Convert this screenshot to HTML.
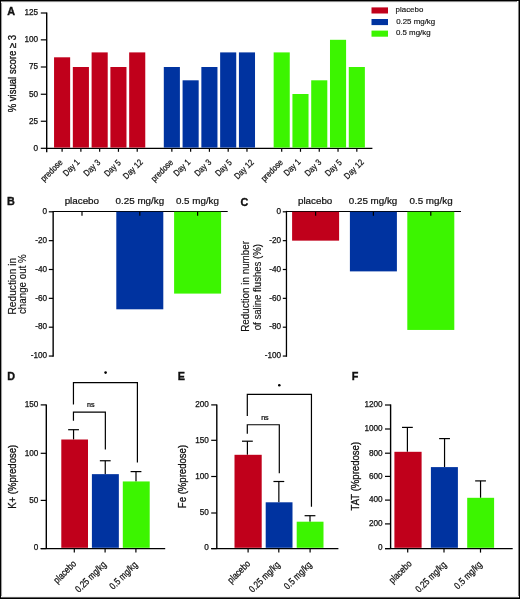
<!DOCTYPE html>
<html><head><meta charset="utf-8"><style>
html,body{margin:0;padding:0;background:#fff;}
#fig{position:relative;width:520px;height:599px;overflow:hidden;background:#fff;}
#fig svg{position:absolute;left:0;top:0;will-change:transform;}
text{font-family:"Liberation Sans",sans-serif;fill:#111;stroke:#111;}
</style></head><body>
<div id="fig">
<svg width="520" height="599" viewBox="0 0 520 599">
<rect x="0" y="0" width="520" height="599" fill="#fff"/>
<text transform="translate(11.12,11.20)" x="0" y="3.89" font-size="10.8" text-anchor="middle" font-weight="bold" stroke-width="0.35">A</text>
<line x1="46.70" y1="12.40" x2="46.70" y2="152.30" stroke="#000" stroke-width="1.4"/>
<line x1="40.80" y1="148.30" x2="46.70" y2="148.30" stroke="#000" stroke-width="1.2"/>
<text x="38.05" y="150.64" font-size="8.2" text-anchor="end" stroke-width="0.25">0</text>
<line x1="40.80" y1="121.25" x2="46.70" y2="121.25" stroke="#000" stroke-width="1.2"/>
<text x="38.05" y="123.59" font-size="8.2" text-anchor="end" stroke-width="0.25">25</text>
<line x1="40.80" y1="94.25" x2="46.70" y2="94.25" stroke="#000" stroke-width="1.2"/>
<text x="38.05" y="96.59" font-size="8.2" text-anchor="end" stroke-width="0.25">50</text>
<line x1="40.80" y1="67.00" x2="46.70" y2="67.00" stroke="#000" stroke-width="1.2"/>
<text x="38.05" y="69.34" font-size="8.2" text-anchor="end" stroke-width="0.25">75</text>
<line x1="40.80" y1="39.85" x2="46.70" y2="39.85" stroke="#000" stroke-width="1.2"/>
<text x="38.05" y="42.19" font-size="8.2" text-anchor="end" stroke-width="0.25">100</text>
<line x1="40.80" y1="13.00" x2="46.70" y2="13.00" stroke="#000" stroke-width="1.2"/>
<text x="38.05" y="15.34" font-size="8.2" text-anchor="end" stroke-width="0.25">125</text>
<line x1="46.10" y1="148.40" x2="372.40" y2="148.40" stroke="#000" stroke-width="1.2"/>
<text transform="translate(11.83,73.62) rotate(-90) scale(0.92,1)" x="0" y="3.74" font-size="10.4" text-anchor="middle" font-weight="normal" stroke-width="0.3">% visual score ≥ 3</text>
<rect x="54.05" y="57.30" width="16.10" height="90.30" fill="#c0001b"/>
<rect x="72.83" y="67.00" width="16.10" height="80.60" fill="#c0001b"/>
<rect x="91.61" y="52.40" width="16.10" height="95.20" fill="#c0001b"/>
<rect x="110.39" y="67.00" width="16.10" height="80.60" fill="#c0001b"/>
<rect x="129.17" y="52.40" width="16.10" height="95.20" fill="#c0001b"/>
<line x1="62.10" y1="148.00" x2="62.10" y2="151.80" stroke="#000" stroke-width="1.2"/>
<text transform="translate(51.39,170.33) rotate(-45) scale(0.85,1)" x="0" y="3.17" font-size="8.8" text-anchor="middle" font-weight="normal" stroke-width="0.25">predose</text>
<line x1="80.88" y1="148.00" x2="80.88" y2="151.80" stroke="#000" stroke-width="1.2"/>
<text transform="translate(71.10,167.53) rotate(-45) scale(0.85,1)" x="0" y="3.17" font-size="8.8" text-anchor="middle" font-weight="normal" stroke-width="0.25">Day 1</text>
<line x1="99.66" y1="148.00" x2="99.66" y2="151.80" stroke="#000" stroke-width="1.2"/>
<text transform="translate(91.75,167.67) rotate(-45) scale(0.85,1)" x="0" y="3.17" font-size="8.8" text-anchor="middle" font-weight="normal" stroke-width="0.25">Day 3</text>
<line x1="118.44" y1="148.00" x2="118.44" y2="151.80" stroke="#000" stroke-width="1.2"/>
<text transform="translate(112.38,167.84) rotate(-45) scale(0.85,1)" x="0" y="3.17" font-size="8.8" text-anchor="middle" font-weight="normal" stroke-width="0.25">Day 5</text>
<line x1="137.22" y1="148.00" x2="137.22" y2="151.80" stroke="#000" stroke-width="1.2"/>
<text transform="translate(132.71,169.04) rotate(-45) scale(0.85,1)" x="0" y="3.17" font-size="8.8" text-anchor="middle" font-weight="normal" stroke-width="0.25">Day 12</text>
<rect x="163.80" y="67.00" width="16.10" height="80.60" fill="#0033a0"/>
<rect x="182.58" y="80.30" width="16.10" height="67.30" fill="#0033a0"/>
<rect x="201.36" y="67.00" width="16.10" height="80.60" fill="#0033a0"/>
<rect x="220.14" y="52.40" width="16.10" height="95.20" fill="#0033a0"/>
<rect x="238.92" y="52.40" width="16.10" height="95.20" fill="#0033a0"/>
<line x1="171.85" y1="148.00" x2="171.85" y2="151.80" stroke="#000" stroke-width="1.2"/>
<text transform="translate(161.90,170.34) rotate(-45) scale(0.85,1)" x="0" y="3.17" font-size="8.8" text-anchor="middle" font-weight="normal" stroke-width="0.25">predose</text>
<line x1="190.63" y1="148.00" x2="190.63" y2="151.80" stroke="#000" stroke-width="1.2"/>
<text transform="translate(181.71,167.48) rotate(-45) scale(0.85,1)" x="0" y="3.17" font-size="8.8" text-anchor="middle" font-weight="normal" stroke-width="0.25">Day 1</text>
<line x1="209.41" y1="148.00" x2="209.41" y2="151.80" stroke="#000" stroke-width="1.2"/>
<text transform="translate(202.69,167.55) rotate(-45) scale(0.85,1)" x="0" y="3.17" font-size="8.8" text-anchor="middle" font-weight="normal" stroke-width="0.25">Day 3</text>
<line x1="228.19" y1="148.00" x2="228.19" y2="151.80" stroke="#000" stroke-width="1.2"/>
<text transform="translate(223.38,167.68) rotate(-45) scale(0.85,1)" x="0" y="3.17" font-size="8.8" text-anchor="middle" font-weight="normal" stroke-width="0.25">Day 5</text>
<line x1="246.97" y1="148.00" x2="246.97" y2="151.80" stroke="#000" stroke-width="1.2"/>
<text transform="translate(243.78,169.10) rotate(-45) scale(0.85,1)" x="0" y="3.17" font-size="8.8" text-anchor="middle" font-weight="normal" stroke-width="0.25">Day 12</text>
<rect x="273.65" y="52.40" width="16.10" height="95.20" fill="#3cf500"/>
<rect x="292.43" y="94.00" width="16.10" height="53.60" fill="#3cf500"/>
<rect x="311.21" y="80.30" width="16.10" height="67.30" fill="#3cf500"/>
<rect x="329.99" y="39.80" width="16.10" height="107.80" fill="#3cf500"/>
<rect x="348.77" y="67.00" width="16.10" height="80.60" fill="#3cf500"/>
<line x1="281.70" y1="148.00" x2="281.70" y2="151.80" stroke="#000" stroke-width="1.2"/>
<text transform="translate(271.70,170.31) rotate(-45) scale(0.85,1)" x="0" y="3.17" font-size="8.8" text-anchor="middle" font-weight="normal" stroke-width="0.25">predose</text>
<line x1="300.48" y1="148.00" x2="300.48" y2="151.80" stroke="#000" stroke-width="1.2"/>
<text transform="translate(291.92,167.27) rotate(-45) scale(0.85,1)" x="0" y="3.17" font-size="8.8" text-anchor="middle" font-weight="normal" stroke-width="0.25">Day 1</text>
<line x1="319.26" y1="148.00" x2="319.26" y2="151.80" stroke="#000" stroke-width="1.2"/>
<text transform="translate(312.82,167.58) rotate(-45) scale(0.85,1)" x="0" y="3.17" font-size="8.8" text-anchor="middle" font-weight="normal" stroke-width="0.25">Day 3</text>
<line x1="338.04" y1="148.00" x2="338.04" y2="151.80" stroke="#000" stroke-width="1.2"/>
<text transform="translate(333.18,167.66) rotate(-45) scale(0.85,1)" x="0" y="3.17" font-size="8.8" text-anchor="middle" font-weight="normal" stroke-width="0.25">Day 5</text>
<line x1="356.82" y1="148.00" x2="356.82" y2="151.80" stroke="#000" stroke-width="1.2"/>
<text transform="translate(353.71,169.04) rotate(-45) scale(0.85,1)" x="0" y="3.17" font-size="8.8" text-anchor="middle" font-weight="normal" stroke-width="0.25">Day 12</text>
<rect x="371.50" y="7.40" width="16.50" height="6.10" fill="#c0001b"/>
<text transform="translate(409.45,9.59) scale(1.04,1)" x="0" y="2.74" font-size="7.6" text-anchor="middle" font-weight="normal" stroke-width="0.15">placebo</text>
<rect x="371.50" y="19.00" width="16.50" height="6.10" fill="#0033a0"/>
<text transform="translate(415.67,20.88) scale(1.04,1)" x="0" y="2.74" font-size="7.6" text-anchor="middle" font-weight="normal" stroke-width="0.15">0.25 mg/kg</text>
<rect x="371.50" y="30.60" width="16.50" height="6.10" fill="#3cf500"/>
<text transform="translate(413.25,32.24) scale(1.04,1)" x="0" y="2.74" font-size="7.6" text-anchor="middle" font-weight="normal" stroke-width="0.15">0.5 mg/kg</text>
<text transform="translate(11.00,201.16)" x="0" y="3.89" font-size="10.8" text-anchor="middle" font-weight="bold" stroke-width="0.35">B</text>
<line x1="53.15" y1="210.90" x2="53.15" y2="356.80" stroke="#000" stroke-width="1.4"/>
<line x1="48.80" y1="211.80" x2="53.15" y2="211.80" stroke="#000" stroke-width="1.2"/>
<text x="47.05" y="214.04" font-size="8.2" text-anchor="end" stroke-width="0.25">0</text>
<line x1="48.80" y1="240.65" x2="53.15" y2="240.65" stroke="#000" stroke-width="1.2"/>
<text x="47.05" y="242.89" font-size="8.2" text-anchor="end" stroke-width="0.25">-20</text>
<line x1="48.80" y1="269.50" x2="53.15" y2="269.50" stroke="#000" stroke-width="1.2"/>
<text x="47.05" y="271.74" font-size="8.2" text-anchor="end" stroke-width="0.25">-40</text>
<line x1="48.80" y1="298.35" x2="53.15" y2="298.35" stroke="#000" stroke-width="1.2"/>
<text x="47.05" y="300.59" font-size="8.2" text-anchor="end" stroke-width="0.25">-60</text>
<line x1="48.80" y1="327.20" x2="53.15" y2="327.20" stroke="#000" stroke-width="1.2"/>
<text x="47.05" y="329.44" font-size="8.2" text-anchor="end" stroke-width="0.25">-80</text>
<line x1="48.80" y1="356.05" x2="53.15" y2="356.05" stroke="#000" stroke-width="1.2"/>
<text x="47.05" y="358.29" font-size="8.2" text-anchor="end" stroke-width="0.25">-100</text>
<line x1="53.15" y1="211.50" x2="227.70" y2="211.50" stroke="#000" stroke-width="1.2"/>
<line x1="82.00" y1="211.80" x2="82.00" y2="215.80" stroke="#000" stroke-width="1.2"/>
<text transform="translate(81.82,201.24) scale(1.17,1)" x="0" y="3.02" font-size="8.4" text-anchor="middle" font-weight="normal" stroke-width="0.2">placebo</text>
<rect x="116.30" y="211.80" width="47.00" height="97.51" fill="#0033a0"/>
<line x1="139.80" y1="211.80" x2="139.80" y2="215.80" stroke="#000" stroke-width="1.2"/>
<text transform="translate(139.86,201.24) scale(1.17,1)" x="0" y="3.02" font-size="8.4" text-anchor="middle" font-weight="normal" stroke-width="0.2">0.25 mg/kg</text>
<rect x="174.10" y="211.80" width="47.00" height="81.79" fill="#3cf500"/>
<line x1="197.60" y1="211.80" x2="197.60" y2="215.80" stroke="#000" stroke-width="1.2"/>
<text transform="translate(197.42,201.24) scale(1.17,1)" x="0" y="3.02" font-size="8.4" text-anchor="middle" font-weight="normal" stroke-width="0.2">0.5 mg/kg</text>
<text transform="translate(11.95,286.25) rotate(-90)" x="0" y="3.67" font-size="10.2" text-anchor="middle" font-weight="normal" stroke-width="0.15">Reduction in</text>
<text transform="translate(22.45,284.17) rotate(-90) scale(0.96,1)" x="0" y="3.67" font-size="10.2" text-anchor="middle" font-weight="normal" stroke-width="0.15">change out %</text>
<text transform="translate(244.44,202.15)" x="0" y="3.89" font-size="10.8" text-anchor="middle" font-weight="bold" stroke-width="0.35">C</text>
<line x1="286.45" y1="210.90" x2="286.45" y2="356.80" stroke="#000" stroke-width="1.3"/>
<line x1="282.80" y1="211.80" x2="286.45" y2="211.80" stroke="#000" stroke-width="1.2"/>
<text x="281.05" y="214.04" font-size="8.2" text-anchor="end" stroke-width="0.25">0</text>
<line x1="282.80" y1="240.65" x2="286.45" y2="240.65" stroke="#000" stroke-width="1.2"/>
<text x="281.05" y="242.89" font-size="8.2" text-anchor="end" stroke-width="0.25">-20</text>
<line x1="282.80" y1="269.50" x2="286.45" y2="269.50" stroke="#000" stroke-width="1.2"/>
<text x="281.05" y="271.74" font-size="8.2" text-anchor="end" stroke-width="0.25">-40</text>
<line x1="282.80" y1="298.35" x2="286.45" y2="298.35" stroke="#000" stroke-width="1.2"/>
<text x="281.05" y="300.59" font-size="8.2" text-anchor="end" stroke-width="0.25">-60</text>
<line x1="282.80" y1="327.20" x2="286.45" y2="327.20" stroke="#000" stroke-width="1.2"/>
<text x="281.05" y="329.44" font-size="8.2" text-anchor="end" stroke-width="0.25">-80</text>
<line x1="282.80" y1="356.05" x2="286.45" y2="356.05" stroke="#000" stroke-width="1.2"/>
<text x="281.05" y="358.29" font-size="8.2" text-anchor="end" stroke-width="0.25">-100</text>
<line x1="286.45" y1="211.50" x2="461.00" y2="211.50" stroke="#000" stroke-width="1.2"/>
<rect x="292.10" y="211.80" width="47.00" height="28.85" fill="#c0001b"/>
<line x1="315.60" y1="211.80" x2="315.60" y2="215.80" stroke="#000" stroke-width="1.2"/>
<text transform="translate(315.13,201.24) scale(1.17,1)" x="0" y="3.02" font-size="8.4" text-anchor="middle" font-weight="normal" stroke-width="0.2">placebo</text>
<rect x="349.90" y="211.80" width="47.00" height="59.58" fill="#0033a0"/>
<line x1="373.40" y1="211.80" x2="373.40" y2="215.80" stroke="#000" stroke-width="1.2"/>
<text transform="translate(373.02,201.24) scale(1.17,1)" x="0" y="3.02" font-size="8.4" text-anchor="middle" font-weight="normal" stroke-width="0.2">0.25 mg/kg</text>
<rect x="407.30" y="211.80" width="47.00" height="118.14" fill="#3cf500"/>
<line x1="430.80" y1="211.80" x2="430.80" y2="215.80" stroke="#000" stroke-width="1.2"/>
<text transform="translate(431.04,201.24) scale(1.17,1)" x="0" y="3.02" font-size="8.4" text-anchor="middle" font-weight="normal" stroke-width="0.2">0.5 mg/kg</text>
<text transform="translate(245.74,286.38) rotate(-90) scale(0.965,1)" x="0" y="3.67" font-size="10.2" text-anchor="middle" font-weight="normal" stroke-width="0.15">Reduction in number</text>
<text transform="translate(257.76,287.16) rotate(-90) scale(0.94,1)" x="0" y="3.67" font-size="10.2" text-anchor="middle" font-weight="normal" stroke-width="0.15">of saline flushes (%)</text>
<text transform="translate(11.18,375.76)" x="0" y="3.89" font-size="10.8" text-anchor="middle" font-weight="bold" stroke-width="0.35">D</text>
<line x1="46.30" y1="404.40" x2="46.30" y2="548.60" stroke="#000" stroke-width="1.4"/>
<line x1="40.70" y1="548.60" x2="46.30" y2="548.60" stroke="#000" stroke-width="1.2"/>
<text x="38.35" y="550.34" font-size="8.2" text-anchor="end" stroke-width="0.25">0</text>
<line x1="40.70" y1="500.40" x2="46.30" y2="500.40" stroke="#000" stroke-width="1.2"/>
<text x="38.35" y="502.74" font-size="8.2" text-anchor="end" stroke-width="0.25">50</text>
<line x1="40.70" y1="453.30" x2="46.30" y2="453.30" stroke="#000" stroke-width="1.2"/>
<text x="38.35" y="455.64" font-size="8.2" text-anchor="end" stroke-width="0.25">100</text>
<line x1="40.70" y1="404.90" x2="46.30" y2="404.90" stroke="#000" stroke-width="1.2"/>
<text x="38.35" y="407.24" font-size="8.2" text-anchor="end" stroke-width="0.25">150</text>
<line x1="40.70" y1="548.60" x2="165.20" y2="548.60" stroke="#000" stroke-width="1.2"/>
<line x1="73.55" y1="429.70" x2="73.55" y2="439.50" stroke="#000" stroke-width="1.2"/>
<line x1="68.15" y1="429.70" x2="78.95" y2="429.70" stroke="#000" stroke-width="1.2"/>
<rect x="61.30" y="439.50" width="26.70" height="108.30" fill="#c0001b"/>
<line x1="74.30" y1="548.60" x2="74.30" y2="552.60" stroke="#000" stroke-width="1.2"/>
<text transform="translate(64.65,571.71) rotate(-45) scale(0.82,1)" x="0" y="3.49" font-size="9.7" text-anchor="middle" font-weight="normal" stroke-width="0.25">placebo</text>
<line x1="105.25" y1="460.75" x2="105.25" y2="474.15" stroke="#000" stroke-width="1.2"/>
<line x1="99.85" y1="460.75" x2="110.65" y2="460.75" stroke="#000" stroke-width="1.2"/>
<rect x="91.90" y="474.15" width="26.95" height="73.65" fill="#0033a0"/>
<line x1="105.10" y1="548.60" x2="105.10" y2="552.60" stroke="#000" stroke-width="1.2"/>
<text transform="translate(90.48,576.64) rotate(-45) scale(0.82,1)" x="0" y="3.49" font-size="9.7" text-anchor="middle" font-weight="normal" stroke-width="0.25">0.25 mg/kg</text>
<line x1="136.00" y1="471.60" x2="136.00" y2="481.45" stroke="#000" stroke-width="1.2"/>
<line x1="130.60" y1="471.60" x2="141.40" y2="471.60" stroke="#000" stroke-width="1.2"/>
<rect x="122.80" y="481.45" width="26.90" height="66.35" fill="#3cf500"/>
<line x1="135.90" y1="548.60" x2="135.90" y2="552.60" stroke="#000" stroke-width="1.2"/>
<text transform="translate(123.20,575.21) rotate(-45) scale(0.82,1)" x="0" y="3.49" font-size="9.7" text-anchor="middle" font-weight="normal" stroke-width="0.25">0.5 mg/kg</text>
<text transform="translate(11.98,476.74) rotate(-90) scale(0.92,1)" x="0" y="3.74" font-size="10.4" text-anchor="middle" font-weight="normal" stroke-width="0.3">K+ (%predose)</text>
<polyline points="73.45,404.40 73.45,382.55 137.40,382.55 137.40,462.40" fill="none" stroke="#000" stroke-width="1.2"/>
<polyline points="73.45,420.70 73.45,412.15 105.35,412.15 105.35,449.40" fill="none" stroke="#000" stroke-width="1.2"/>
<text transform="translate(90.89,404.77) scale(1.1,1)" x="0" y="2.34" font-size="6.5" text-anchor="middle" font-weight="normal" stroke-width="0.25">ns</text>
<circle cx="105.6" cy="372.6" r="1.3" fill="#000"/>
<text transform="translate(181.26,375.76)" x="0" y="3.89" font-size="10.8" text-anchor="middle" font-weight="bold" stroke-width="0.35">E</text>
<line x1="216.80" y1="404.40" x2="216.80" y2="548.60" stroke="#000" stroke-width="1.4"/>
<line x1="211.20" y1="548.60" x2="216.80" y2="548.60" stroke="#000" stroke-width="1.2"/>
<text x="208.85" y="550.34" font-size="8.2" text-anchor="end" stroke-width="0.25">0</text>
<line x1="211.20" y1="513.00" x2="216.80" y2="513.00" stroke="#000" stroke-width="1.2"/>
<text x="208.85" y="515.34" font-size="8.2" text-anchor="end" stroke-width="0.25">50</text>
<line x1="211.20" y1="476.50" x2="216.80" y2="476.50" stroke="#000" stroke-width="1.2"/>
<text x="208.85" y="478.84" font-size="8.2" text-anchor="end" stroke-width="0.25">100</text>
<line x1="211.20" y1="440.30" x2="216.80" y2="440.30" stroke="#000" stroke-width="1.2"/>
<text x="208.85" y="442.64" font-size="8.2" text-anchor="end" stroke-width="0.25">150</text>
<line x1="211.20" y1="404.90" x2="216.80" y2="404.90" stroke="#000" stroke-width="1.2"/>
<text x="208.85" y="407.24" font-size="8.2" text-anchor="end" stroke-width="0.25">200</text>
<line x1="211.20" y1="548.60" x2="338.40" y2="548.60" stroke="#000" stroke-width="1.2"/>
<line x1="247.40" y1="441.20" x2="247.40" y2="454.80" stroke="#000" stroke-width="1.2"/>
<line x1="242.00" y1="441.20" x2="252.80" y2="441.20" stroke="#000" stroke-width="1.2"/>
<rect x="234.50" y="454.80" width="27.20" height="93.00" fill="#c0001b"/>
<line x1="248.10" y1="548.60" x2="248.10" y2="552.60" stroke="#000" stroke-width="1.2"/>
<text transform="translate(238.67,571.65) rotate(-45) scale(0.82,1)" x="0" y="3.49" font-size="9.7" text-anchor="middle" font-weight="normal" stroke-width="0.25">placebo</text>
<line x1="278.85" y1="481.50" x2="278.85" y2="502.30" stroke="#000" stroke-width="1.2"/>
<line x1="273.45" y1="481.50" x2="284.25" y2="481.50" stroke="#000" stroke-width="1.2"/>
<rect x="265.70" y="502.30" width="26.80" height="45.50" fill="#0033a0"/>
<line x1="278.80" y1="548.60" x2="278.80" y2="552.60" stroke="#000" stroke-width="1.2"/>
<text transform="translate(264.25,576.72) rotate(-45) scale(0.82,1)" x="0" y="3.49" font-size="9.7" text-anchor="middle" font-weight="normal" stroke-width="0.25">0.25 mg/kg</text>
<line x1="310.00" y1="515.70" x2="310.00" y2="521.70" stroke="#000" stroke-width="1.2"/>
<line x1="304.60" y1="515.70" x2="315.40" y2="515.70" stroke="#000" stroke-width="1.2"/>
<rect x="296.70" y="521.70" width="26.80" height="26.10" fill="#3cf500"/>
<line x1="310.10" y1="548.60" x2="310.10" y2="552.60" stroke="#000" stroke-width="1.2"/>
<text transform="translate(297.56,575.24) rotate(-45) scale(0.82,1)" x="0" y="3.49" font-size="9.7" text-anchor="middle" font-weight="normal" stroke-width="0.25">0.5 mg/kg</text>
<text transform="translate(182.06,476.52) rotate(-90) scale(0.92,1)" x="0" y="3.74" font-size="10.4" text-anchor="middle" font-weight="normal" stroke-width="0.3">Fe (%predose)</text>
<polyline points="247.30,415.90 247.30,394.40 311.45,394.40 311.45,506.80" fill="none" stroke="#000" stroke-width="1.2"/>
<polyline points="247.30,433.70 247.30,424.75 279.30,424.75 279.30,473.30" fill="none" stroke="#000" stroke-width="1.2"/>
<text transform="translate(264.92,417.42) scale(1.1,1)" x="0" y="2.34" font-size="6.5" text-anchor="middle" font-weight="normal" stroke-width="0.25">ns</text>
<circle cx="279.3" cy="385.3" r="1.3" fill="#000"/>
<text transform="translate(354.99,375.85)" x="0" y="3.89" font-size="10.8" text-anchor="middle" font-weight="bold" stroke-width="0.35">F</text>
<line x1="390.60" y1="404.40" x2="390.60" y2="548.60" stroke="#000" stroke-width="1.4"/>
<line x1="385.00" y1="548.60" x2="390.60" y2="548.60" stroke="#000" stroke-width="1.2"/>
<text x="382.65" y="550.34" font-size="8.2" text-anchor="end" stroke-width="0.25">0</text>
<line x1="385.00" y1="523.90" x2="390.60" y2="523.90" stroke="#000" stroke-width="1.2"/>
<text x="382.65" y="526.24" font-size="8.2" text-anchor="end" stroke-width="0.25">200</text>
<line x1="385.00" y1="500.10" x2="390.60" y2="500.10" stroke="#000" stroke-width="1.2"/>
<text x="382.65" y="502.44" font-size="8.2" text-anchor="end" stroke-width="0.25">400</text>
<line x1="385.00" y1="476.40" x2="390.60" y2="476.40" stroke="#000" stroke-width="1.2"/>
<text x="382.65" y="478.74" font-size="8.2" text-anchor="end" stroke-width="0.25">600</text>
<line x1="385.00" y1="453.20" x2="390.60" y2="453.20" stroke="#000" stroke-width="1.2"/>
<text x="382.65" y="455.54" font-size="8.2" text-anchor="end" stroke-width="0.25">800</text>
<line x1="385.00" y1="429.00" x2="390.60" y2="429.00" stroke="#000" stroke-width="1.2"/>
<text x="382.65" y="431.34" font-size="8.2" text-anchor="end" stroke-width="0.25">1000</text>
<line x1="385.00" y1="405.00" x2="390.60" y2="405.00" stroke="#000" stroke-width="1.2"/>
<text x="382.65" y="407.34" font-size="8.2" text-anchor="end" stroke-width="0.25">1200</text>
<line x1="385.00" y1="548.60" x2="512.70" y2="548.60" stroke="#000" stroke-width="1.2"/>
<line x1="407.40" y1="427.40" x2="407.40" y2="451.80" stroke="#000" stroke-width="1.2"/>
<line x1="402.00" y1="427.40" x2="412.80" y2="427.40" stroke="#000" stroke-width="1.2"/>
<rect x="394.40" y="451.80" width="27.20" height="96.00" fill="#c0001b"/>
<line x1="407.70" y1="548.60" x2="407.70" y2="552.60" stroke="#000" stroke-width="1.2"/>
<text transform="translate(400.04,571.63) rotate(-45) scale(0.82,1)" x="0" y="3.49" font-size="9.7" text-anchor="middle" font-weight="normal" stroke-width="0.25">placebo</text>
<line x1="444.55" y1="438.60" x2="444.55" y2="467.10" stroke="#000" stroke-width="1.2"/>
<line x1="439.15" y1="438.60" x2="449.95" y2="438.60" stroke="#000" stroke-width="1.2"/>
<rect x="430.90" y="467.10" width="27.00" height="80.70" fill="#0033a0"/>
<line x1="444.00" y1="548.60" x2="444.00" y2="552.60" stroke="#000" stroke-width="1.2"/>
<text transform="translate(430.67,576.69) rotate(-45) scale(0.82,1)" x="0" y="3.49" font-size="9.7" text-anchor="middle" font-weight="normal" stroke-width="0.25">0.25 mg/kg</text>
<line x1="480.55" y1="480.90" x2="480.55" y2="497.80" stroke="#000" stroke-width="1.2"/>
<line x1="475.15" y1="480.90" x2="485.95" y2="480.90" stroke="#000" stroke-width="1.2"/>
<rect x="467.20" y="497.80" width="26.90" height="50.00" fill="#3cf500"/>
<line x1="480.50" y1="548.60" x2="480.50" y2="552.60" stroke="#000" stroke-width="1.2"/>
<text transform="translate(467.93,574.92) rotate(-45) scale(0.82,1)" x="0" y="3.49" font-size="9.7" text-anchor="middle" font-weight="normal" stroke-width="0.25">0.5 mg/kg</text>
<text transform="translate(355.42,476.18) rotate(-90) scale(0.92,1)" x="0" y="3.74" font-size="10.4" text-anchor="middle" font-weight="normal" stroke-width="0.3">TAT (%predose)</text>
<rect x="0" y="0" width="3" height="599" fill="#fafafa"/>
<rect x="0" y="0" width="2" height="599" fill="#a0a0a0"/>
<rect x="0" y="0" width="520" height="3" fill="#f4f4f4"/>
<rect x="0" y="0" width="520" height="2" fill="#888"/>
<rect x="517" y="0" width="3" height="599" fill="#fcfcfc"/>
<rect x="518" y="0" width="2" height="599" fill="#808080"/>
<rect x="0" y="596" width="520" height="3" fill="#f4f4f4"/>
<rect x="0" y="597" width="520" height="2" fill="#606060"/>
<rect x="0" y="0" width="1" height="599" fill="#000"/>
<rect x="0" y="0" width="520" height="1" fill="#000"/>
<rect x="519" y="0" width="1" height="599" fill="#000"/>
<rect x="0" y="598" width="520" height="1" fill="#000"/>
</svg>
</div>
</body></html>
